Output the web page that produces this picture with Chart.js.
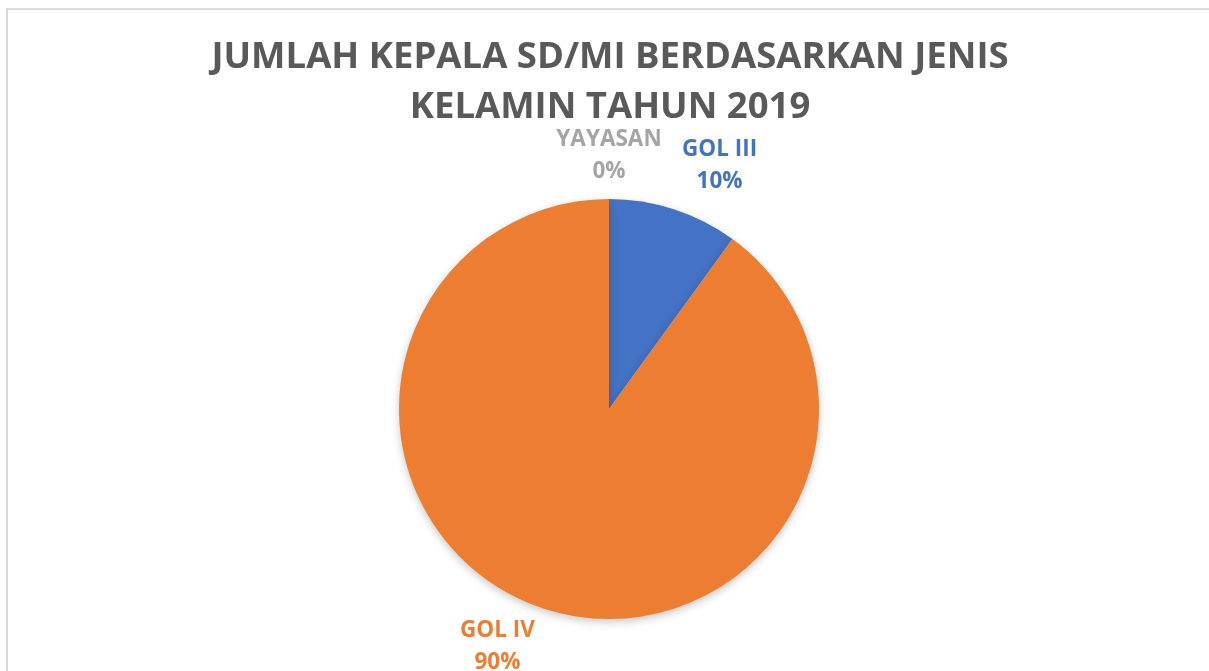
<!DOCTYPE html>
<html>
<head>
<meta charset="utf-8">
<script src="https://cdn.jsdelivr.net/npm/chart.js@4"></script>
<style>
  body { margin: 0; background: #fff; overflow: hidden; }
  .frame { position: absolute; left: 6px; top: 8px; width: 1400px; height: 900px; border-left: 2px solid #d9d9d9; border-top: 2px solid #d9d9d9; }
  #pie { position: absolute; left: 0; top: 0; }
</style>
</head>
<body>
<div class="frame"></div>
<canvas id="pie" width="1209" height="671"></canvas>
<script>
// chart data
const categories = ['GOL III', 'GOL IV', 'YAYASAN'];
const values = [10, 90, 0];
const percentLabels = ['10%', '90%', '0%'];
const sliceColors = ['#4472C4', '#ED7D31', '#A5A5A5'];
const titleLines = ['JUMLAH KEPALA SD/MI BERDASARKAN JENIS', 'KELAMIN TAHUN 2019'];

// nudge of each outside label from its spot on the mid-angle ray
const labelNudge = [[29, 8], [-30, -13], [0, 11]];

// light shadow under the pie, like the Excel one
const pieShadow = {
    id: 'pieShadow',
    beforeDatasetsDraw(chart) {
        const ctx = chart.ctx;
        ctx.save();
        ctx.shadowColor = 'rgba(0,0,0,0.22)';
        ctx.shadowBlur = 8;
        ctx.shadowOffsetY = 3;
    },
    afterDatasetsDraw(chart) {
        chart.ctx.restore();
    }
};

// category name + percent outside each slice
const outsideLabels = {
    id: 'outsideLabels',
    afterDraw(chart) {
        const ctx = chart.ctx;
        const meta = chart.getDatasetMeta(0);
        ctx.save();
        ctx.textAlign = 'center';
        ctx.textBaseline = 'middle';
        ctx.font = 'bold 22.5px "Open Sans"';
        meta.data.forEach((arc, i) => {
            const p = arc.getProps(['x', 'y', 'startAngle', 'endAngle', 'outerRadius'], true);
            const mid = (p.startAngle + p.endAngle) / 2;
            const d = p.outerRadius + 54;
            const x = p.x + Math.cos(mid) * d + labelNudge[i][0];
            const y = p.y + Math.sin(mid) * d + labelNudge[i][1];
            ctx.fillStyle = sliceColors[i];
            ctx.fillText(categories[i], x, y - 16);
            ctx.fillText(percentLabels[i], x, y + 16);
        });
        ctx.restore();
    }
};

// title drawn by hand so it is not squeezed to the chart width
const bigTitle = {
    id: 'bigTitle',
    afterDraw(chart) {
        const ctx = chart.ctx;
        ctx.save();
        ctx.textAlign = 'center';
        ctx.textBaseline = 'middle';
        ctx.font = 'bold 36.5px "Open Sans"';
        ctx.fillStyle = '#595959';
        titleLines.forEach((line, i) => {
            ctx.fillText(line, 610, 58 + i * 50);
        });
        ctx.restore();
    }
};

const ctx = document.getElementById('pie').getContext('2d');
const chart = new Chart(ctx, {
    type: 'pie',
    data: {
        labels: categories,
        datasets: [{
            data: values,
            backgroundColor: sliceColors,
            borderWidth: 0
        }]
    },
    options: {
        responsive: false,
        animation: false,
        layout: { padding: { left: 9, right: 0, top: 199, bottom: 52 } },
        plugins: {
            legend: { display: false },
            tooltip: { enabled: false },
            title: { display: false }
        }
    },
    plugins: [pieShadow, outsideLabels, bigTitle]
});
</script>
</body>
</html>
